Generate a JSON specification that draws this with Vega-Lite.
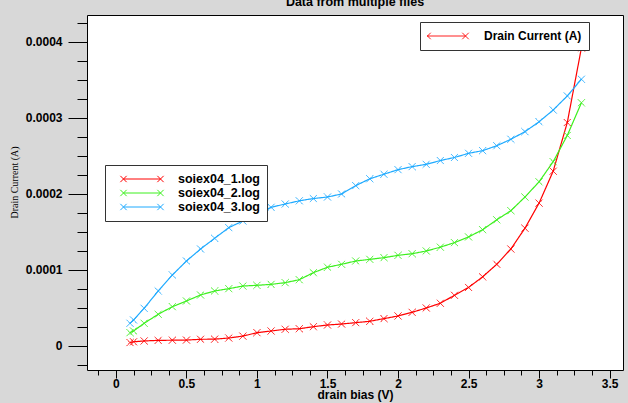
{
  "$schema": "https://vega.github.io/schema/vega-lite/v6.json",
  "width": 536,
  "height": 355,
  "autosize": {"type": "none"},
  "padding": {"left": 87, "top": 15, "right": 5, "bottom": 33},
  "background": "#d8d8d8",
  "title": {"text": "Data from multiple files", "fontSize": 12.5, "fontWeight": "bold", "font": "Liberation Sans", "color": "black", "anchor": "middle", "frame": "group", "offset": 6, "dy": 9, "baseline": "alphabetic"},
  "data": {"values": [
    {"f":"soiex04_1.log","q":"Drain Current (A)","v":0.1,"i":0.0000045},
    {"f":"soiex04_1.log","q":"Drain Current (A)","v":0.125,"i":0.0000055},
    {"f":"soiex04_1.log","q":"Drain Current (A)","v":0.2,"i":0.0000066},
    {"f":"soiex04_1.log","q":"Drain Current (A)","v":0.3,"i":0.0000074},
    {"f":"soiex04_1.log","q":"Drain Current (A)","v":0.4,"i":0.0000076},
    {"f":"soiex04_1.log","q":"Drain Current (A)","v":0.5,"i":0.0000078},
    {"f":"soiex04_1.log","q":"Drain Current (A)","v":0.6,"i":0.0000088},
    {"f":"soiex04_1.log","q":"Drain Current (A)","v":0.7,"i":0.000009},
    {"f":"soiex04_1.log","q":"Drain Current (A)","v":0.8,"i":0.0000105},
    {"f":"soiex04_1.log","q":"Drain Current (A)","v":0.9,"i":0.000013},
    {"f":"soiex04_1.log","q":"Drain Current (A)","v":1.0,"i":0.0000175},
    {"f":"soiex04_1.log","q":"Drain Current (A)","v":1.1,"i":0.0000197},
    {"f":"soiex04_1.log","q":"Drain Current (A)","v":1.2,"i":0.000022},
    {"f":"soiex04_1.log","q":"Drain Current (A)","v":1.3,"i":0.0000227},
    {"f":"soiex04_1.log","q":"Drain Current (A)","v":1.4,"i":0.0000254},
    {"f":"soiex04_1.log","q":"Drain Current (A)","v":1.5,"i":0.0000276},
    {"f":"soiex04_1.log","q":"Drain Current (A)","v":1.6,"i":0.0000289},
    {"f":"soiex04_1.log","q":"Drain Current (A)","v":1.7,"i":0.0000307},
    {"f":"soiex04_1.log","q":"Drain Current (A)","v":1.8,"i":0.0000325},
    {"f":"soiex04_1.log","q":"Drain Current (A)","v":1.9,"i":0.000036},
    {"f":"soiex04_1.log","q":"Drain Current (A)","v":2.0,"i":0.0000395},
    {"f":"soiex04_1.log","q":"Drain Current (A)","v":2.1,"i":0.0000443},
    {"f":"soiex04_1.log","q":"Drain Current (A)","v":2.2,"i":0.00005},
    {"f":"soiex04_1.log","q":"Drain Current (A)","v":2.3,"i":0.0000562},
    {"f":"soiex04_1.log","q":"Drain Current (A)","v":2.4,"i":0.0000667},
    {"f":"soiex04_1.log","q":"Drain Current (A)","v":2.5,"i":0.000077},
    {"f":"soiex04_1.log","q":"Drain Current (A)","v":2.6,"i":0.000091},
    {"f":"soiex04_1.log","q":"Drain Current (A)","v":2.7,"i":0.0001075},
    {"f":"soiex04_1.log","q":"Drain Current (A)","v":2.8,"i":0.0001276},
    {"f":"soiex04_1.log","q":"Drain Current (A)","v":2.9,"i":0.000155},
    {"f":"soiex04_1.log","q":"Drain Current (A)","v":3.0,"i":0.000188},
    {"f":"soiex04_1.log","q":"Drain Current (A)","v":3.1,"i":0.00023},
    {"f":"soiex04_1.log","q":"Drain Current (A)","v":3.2,"i":0.000294},
    {"f":"soiex04_1.log","q":"Drain Current (A)","v":3.3,"i":0.000392},
    {"f":"soiex04_2.log","q":"Drain Current (A)","v":0.1,"i":0.0000175},
    {"f":"soiex04_2.log","q":"Drain Current (A)","v":0.125,"i":0.0000197},
    {"f":"soiex04_2.log","q":"Drain Current (A)","v":0.2,"i":0.0000299},
    {"f":"soiex04_2.log","q":"Drain Current (A)","v":0.3,"i":0.0000417},
    {"f":"soiex04_2.log","q":"Drain Current (A)","v":0.4,"i":0.0000517},
    {"f":"soiex04_2.log","q":"Drain Current (A)","v":0.5,"i":0.0000592},
    {"f":"soiex04_2.log","q":"Drain Current (A)","v":0.6,"i":0.0000671},
    {"f":"soiex04_2.log","q":"Drain Current (A)","v":0.7,"i":0.0000724},
    {"f":"soiex04_2.log","q":"Drain Current (A)","v":0.8,"i":0.0000754},
    {"f":"soiex04_2.log","q":"Drain Current (A)","v":0.9,"i":0.0000789},
    {"f":"soiex04_2.log","q":"Drain Current (A)","v":1.0,"i":0.0000798},
    {"f":"soiex04_2.log","q":"Drain Current (A)","v":1.1,"i":0.0000811},
    {"f":"soiex04_2.log","q":"Drain Current (A)","v":1.2,"i":0.0000833},
    {"f":"soiex04_2.log","q":"Drain Current (A)","v":1.3,"i":0.0000872},
    {"f":"soiex04_2.log","q":"Drain Current (A)","v":1.4,"i":0.0000965},
    {"f":"soiex04_2.log","q":"Drain Current (A)","v":1.5,"i":0.0001036},
    {"f":"soiex04_2.log","q":"Drain Current (A)","v":1.6,"i":0.0001075},
    {"f":"soiex04_2.log","q":"Drain Current (A)","v":1.7,"i":0.0001118},
    {"f":"soiex04_2.log","q":"Drain Current (A)","v":1.8,"i":0.000114},
    {"f":"soiex04_2.log","q":"Drain Current (A)","v":1.9,"i":0.0001162},
    {"f":"soiex04_2.log","q":"Drain Current (A)","v":2.0,"i":0.0001193},
    {"f":"soiex04_2.log","q":"Drain Current (A)","v":2.1,"i":0.0001214},
    {"f":"soiex04_2.log","q":"Drain Current (A)","v":2.2,"i":0.000125},
    {"f":"soiex04_2.log","q":"Drain Current (A)","v":2.3,"i":0.00013},
    {"f":"soiex04_2.log","q":"Drain Current (A)","v":2.4,"i":0.000136},
    {"f":"soiex04_2.log","q":"Drain Current (A)","v":2.5,"i":0.0001435},
    {"f":"soiex04_2.log","q":"Drain Current (A)","v":2.6,"i":0.000153},
    {"f":"soiex04_2.log","q":"Drain Current (A)","v":2.7,"i":0.000166},
    {"f":"soiex04_2.log","q":"Drain Current (A)","v":2.8,"i":0.000178},
    {"f":"soiex04_2.log","q":"Drain Current (A)","v":2.9,"i":0.000196},
    {"f":"soiex04_2.log","q":"Drain Current (A)","v":3.0,"i":0.000216},
    {"f":"soiex04_2.log","q":"Drain Current (A)","v":3.1,"i":0.0002425},
    {"f":"soiex04_2.log","q":"Drain Current (A)","v":3.2,"i":0.000277},
    {"f":"soiex04_2.log","q":"Drain Current (A)","v":3.3,"i":0.00032},
    {"f":"soiex04_3.log","q":"Drain Current (A)","v":0.1,"i":0.0000299},
    {"f":"soiex04_3.log","q":"Drain Current (A)","v":0.125,"i":0.0000342},
    {"f":"soiex04_3.log","q":"Drain Current (A)","v":0.2,"i":0.0000496},
    {"f":"soiex04_3.log","q":"Drain Current (A)","v":0.3,"i":0.0000724},
    {"f":"soiex04_3.log","q":"Drain Current (A)","v":0.4,"i":0.0000934},
    {"f":"soiex04_3.log","q":"Drain Current (A)","v":0.5,"i":0.0001118},
    {"f":"soiex04_3.log","q":"Drain Current (A)","v":0.6,"i":0.0001276},
    {"f":"soiex04_3.log","q":"Drain Current (A)","v":0.7,"i":0.0001417},
    {"f":"soiex04_3.log","q":"Drain Current (A)","v":0.8,"i":0.0001557},
    {"f":"soiex04_3.log","q":"Drain Current (A)","v":0.9,"i":0.0001645},
    {"f":"soiex04_3.log","q":"Drain Current (A)","v":1.0,"i":0.0001737},
    {"f":"soiex04_3.log","q":"Drain Current (A)","v":1.1,"i":0.0001825},
    {"f":"soiex04_3.log","q":"Drain Current (A)","v":1.2,"i":0.0001868},
    {"f":"soiex04_3.log","q":"Drain Current (A)","v":1.3,"i":0.000191},
    {"f":"soiex04_3.log","q":"Drain Current (A)","v":1.4,"i":0.000194},
    {"f":"soiex04_3.log","q":"Drain Current (A)","v":1.5,"i":0.000196},
    {"f":"soiex04_3.log","q":"Drain Current (A)","v":1.6,"i":0.0002},
    {"f":"soiex04_3.log","q":"Drain Current (A)","v":1.7,"i":0.000211},
    {"f":"soiex04_3.log","q":"Drain Current (A)","v":1.8,"i":0.00022},
    {"f":"soiex04_3.log","q":"Drain Current (A)","v":1.9,"i":0.000226},
    {"f":"soiex04_3.log","q":"Drain Current (A)","v":2.0,"i":0.000232},
    {"f":"soiex04_3.log","q":"Drain Current (A)","v":2.1,"i":0.000236},
    {"f":"soiex04_3.log","q":"Drain Current (A)","v":2.2,"i":0.000239},
    {"f":"soiex04_3.log","q":"Drain Current (A)","v":2.3,"i":0.000244},
    {"f":"soiex04_3.log","q":"Drain Current (A)","v":2.4,"i":0.000248},
    {"f":"soiex04_3.log","q":"Drain Current (A)","v":2.5,"i":0.0002535},
    {"f":"soiex04_3.log","q":"Drain Current (A)","v":2.6,"i":0.000257},
    {"f":"soiex04_3.log","q":"Drain Current (A)","v":2.7,"i":0.0002635},
    {"f":"soiex04_3.log","q":"Drain Current (A)","v":2.8,"i":0.000272},
    {"f":"soiex04_3.log","q":"Drain Current (A)","v":2.9,"i":0.000282},
    {"f":"soiex04_3.log","q":"Drain Current (A)","v":3.0,"i":0.000295},
    {"f":"soiex04_3.log","q":"Drain Current (A)","v":3.1,"i":0.0003105},
    {"f":"soiex04_3.log","q":"Drain Current (A)","v":3.2,"i":0.000329},
    {"f":"soiex04_3.log","q":"Drain Current (A)","v":3.3,"i":0.000351}
  ]},
  "layer": [
    {
      "mark": {"type": "line", "strokeWidth": 1.2, "clip": true,
        "point": {"shape": "M-1,-1L1,1M-1,1L1,-1", "filled": false, "size": 49, "strokeWidth": 1}},
      "encoding": {
        "x": {"field": "v", "type": "quantitative",
          "scale": {"domain": [-0.205, 3.595], "nice": false, "zero": false},
          "axis": {"orient": "bottom", "values": [0, 0.5, 1, 1.5, 2, 2.5, 3, 3.5], "format": "~g", "tickSize": 8, "labelPadding": 0,
            "title": "drain bias (V)", "titleFontSize": 12, "titleFontWeight": "bold", "titleFont": "Liberation Sans", "titleColor": "black",
            "titleY": 28, "titleBaseline": "alphabetic", "titleX": 268, "titleAlign": "center"}},
        "y": {"field": "i", "type": "quantitative",
          "scale": {"domain": [-0.0000316, 0.0004355], "nice": false, "zero": false},
          "axis": {"orient": "left", "values": [0, 0.0001, 0.0002, 0.0003, 0.0004], "format": ".4~f", "tickSize": 19, "labelPadding": 6,
            "title": "Drain Current (A)", "titleFont": "Liberation Serif", "titleFontSize": 10, "titleFontWeight": "normal", "titleColor": "black",
            "titleAngle": -90, "titleX": -73, "titleY": 167, "titleAlign": "center", "titleBaseline": "middle"}},
        "color": {"field": "f", "type": "nominal",
          "scale": {"domain": ["soiex04_1.log", "soiex04_2.log", "soiex04_3.log"], "range": ["#ff0000", "#3cf01e", "#1eaaff"]},
          "legend": {"orient": "none", "legendX": 18, "legendY": 150, "title": null,
            "symbolType": "M-1,0L1,0M-1.17,-0.17L-0.83,0.17M-1.17,0.17L-0.83,-0.17M0.83,-0.17L1.17,0.17M0.83,0.17L1.17,-0.17",
            "symbolSize": 1369, "symbolStrokeWidth": 1, "symbolFillColor": "transparent", "symbolOffset": 11,
            "padding": 7, "clipHeight": 14, "rowPadding": 0, "labelOffset": 17,
            "labelFont": "Liberation Sans", "labelFontSize": 12.5, "labelFontWeight": "bold", "labelColor": "black",
            "strokeColor": "#333333", "fillColor": "white"}},
        "strokeDash": {"field": "q", "type": "nominal",
          "scale": {"range": [[1, 0]]},
          "legend": {"orient": "none", "legendX": 333, "legendY": 7, "title": null,
            "symbolType": "M-1,0L1,0M-1.17,-0.17L-0.83,0.17M-1.17,0.17L-0.83,-0.17M0.83,-0.17L1.17,0.17M0.83,0.17L1.17,-0.17",
            "symbolSize": 1444, "symbolStrokeWidth": 1, "symbolStrokeColor": "#ff0000", "symbolFillColor": "transparent",
            "padding": 7, "clipHeight": 14, "labelOffset": 18,
            "labelFont": "Liberation Sans", "labelFontSize": 12, "labelFontWeight": "bold", "labelColor": "black",
            "strokeColor": "#333333", "fillColor": "white"}}
      }
    },
    {
      "mark": {"type": "point", "opacity": 0},
      "encoding": {
        "x": {"field": "v", "type": "quantitative",
          "axis": {"orient": "bottom", "values": [-0.125, 0.125, 0.25, 0.375, 0.625, 0.75, 0.875, 1.125, 1.25, 1.375, 1.625, 1.75, 1.875, 2.125, 2.25, 2.375, 2.625, 2.75, 2.875, 3.125, 3.25, 3.375, 3.625], "labels": false, "tickSize": 5, "title": null}},
        "y": {"field": "i", "type": "quantitative",
          "axis": {"orient": "left", "values": [-0.000025, 0.000025, 0.00005, 0.000075, 0.000125, 0.00015, 0.000175, 0.000225, 0.00025, 0.000275, 0.000325, 0.00035, 0.000375, 0.000425], "labels": false, "tickSize": 10, "title": null}}
      }
    }
  ],
  "resolve": {"axis": {"x": "independent", "y": "independent"}},
  "config": {
    "view": {"fill": "white", "stroke": "black", "strokeWidth": 1},
    "axis": {"grid": false, "domain": false, "tickColor": "black", "tickWidth": 1, "labelColor": "black", "labelFont": "Liberation Sans", "labelFontSize": 12, "labelFontWeight": "bold"}
  }
}
